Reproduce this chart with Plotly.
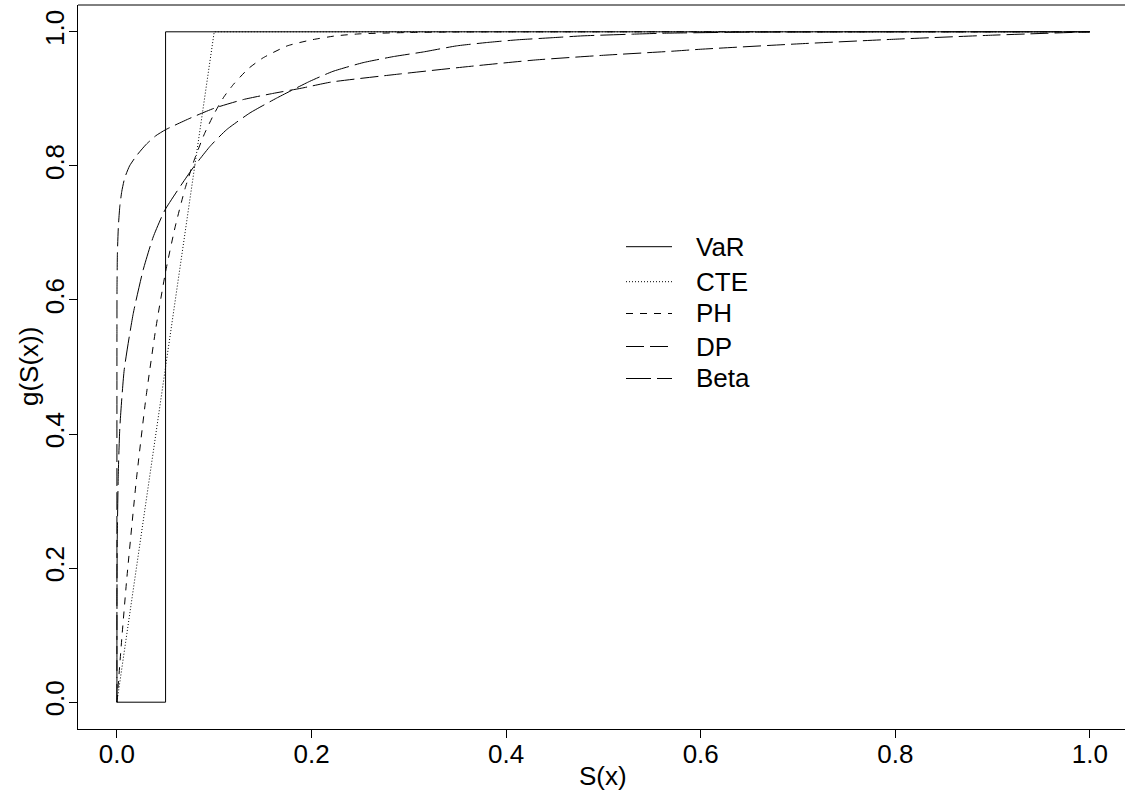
import plotly.graph_objects as go

# ---- data ----
var_s = [0.0, 0.05, 0.05, 1.0]
var_g = [0.0, 0.0, 1.0, 1.0]

cte_s = [0.0, 0.1, 1.0]
cte_g = [0.0, 1.0, 1.0]

ph_s = [0.0, 0.005, 0.01, 0.02, 0.03, 0.04, 0.05, 0.06, 0.07, 0.08, 0.09, 0.1, 0.11, 0.12,
        0.135, 0.15, 0.175, 0.2, 0.225, 0.25, 0.3, 0.35, 0.4, 1.0]
ph_g = [0.0, 0.095, 0.182, 0.332, 0.456, 0.558, 0.642, 0.710, 0.766, 0.811, 0.848, 0.878,
        0.903, 0.922, 0.945, 0.961, 0.979, 0.988, 0.994, 0.997, 0.999, 0.9998, 1.0, 1.0]

dp_s = [0.0, 0.00002, 0.0001, 0.0005, 0.0015, 0.003, 0.005, 0.008, 0.013, 0.02,
        0.03, 0.04, 0.05, 0.075, 0.1, 0.13, 0.16, 0.19, 0.22, 0.29, 0.36, 0.43,
        0.5, 0.57, 0.6, 0.7, 0.8, 0.9, 1.0]
dp_g = [0.0, 0.55, 0.62, 0.67, 0.71, 0.74, 0.762, 0.782, 0.80, 0.815,
        0.832, 0.845, 0.854, 0.871, 0.886, 0.899, 0.908, 0.916, 0.925, 0.937, 0.948, 0.958,
        0.965, 0.971, 0.974, 0.982, 0.989, 0.995, 1.0]

beta_s = [0.0, 0.00005, 0.0003, 0.0014, 0.003, 0.0075, 0.0168, 0.027, 0.0373, 0.0493,
          0.0767, 0.0956, 0.1127, 0.1367, 0.164, 0.198, 0.222, 0.253, 0.284, 0.315,
          0.349, 0.38, 0.411, 0.445, 0.479, 0.53, 0.565, 0.65, 0.8, 1.0]
beta_g = [0.0, 0.15, 0.24, 0.34, 0.41, 0.496, 0.58, 0.645, 0.694, 0.734,
          0.794, 0.829, 0.854, 0.879, 0.901, 0.926, 0.941, 0.954, 0.963, 0.970,
          0.979, 0.984, 0.988, 0.991, 0.994, 0.9965, 0.998, 0.9995, 1.0, 1.0]

legend_names = ["VaR", "CTE", "PH", "DP", "Beta"]
tick_vals = [0.0, 0.2, 0.4, 0.6, 0.8, 1.0]
tick_text = ["0.0", "0.2", "0.4", "0.6", "0.8", "1.0"]
x_title = "S(x)"
y_title = "g(S(x))"

# ---- styles ----
W, H = 1125, 799
L, R, T, B = 78, 0, 5, 70
FONT = "Liberation Sans, Arial, sans-serif"
FS = 26
dashes = ["solid", "1px,2px", "7px,7px", "18px,6px", "25px,6px"]
shapes_kind = ["linear", "linear", "spline", "spline", "spline"]

fig = go.Figure()
series = [(var_s, var_g), (cte_s, cte_g), (ph_s, ph_g), (dp_s, dp_g), (beta_s, beta_g)]
for (sx, gy), name, d, sh in zip(series, legend_names, dashes, shapes_kind):
    line = dict(color="black", width=1, dash=d, shape=sh)
    if sh == "spline":
        line["smoothing"] = 0.5
    fig.add_trace(go.Scatter(x=sx, y=gy, mode="lines", name=name,
                             line=line, showlegend=False, hoverinfo="skip"))

pw = W - L - R
ph = H - T - B

def px2paper_x(px):
    return (px - L) / pw

def px2paper_y(py):
    return (H - B - py) / ph

shapes = []
annotations = []
row_y = [246.7, 281.7, 313.5, 346.5, 378.5]
for name, d, yy in zip(legend_names, dashes, row_y):
    shapes.append(dict(type="line", xref="paper", yref="paper",
                       x0=px2paper_x(626), x1=px2paper_x(672),
                       y0=px2paper_y(yy), y1=px2paper_y(yy),
                       line=dict(color="black", width=1, dash=d)))
    annotations.append(dict(xref="paper", yref="paper", x=px2paper_x(694),
                            y=px2paper_y(yy), text=name, showarrow=False,
                            xanchor="left", yanchor="middle",
                            font=dict(family=FONT, size=FS, color="black")))

# axis titles
annotations.append(dict(xref="paper", yref="paper", x=px2paper_x(603), y=px2paper_y(776),
                        text=x_title, showarrow=False, xanchor="center", yanchor="middle",
                        font=dict(family=FONT, size=FS, color="black")))
annotations.append(dict(xref="paper", yref="paper", x=px2paper_x(29), y=px2paper_y(367),
                        text=y_title, showarrow=False, textangle=-90,
                        xanchor="center", yanchor="middle",
                        font=dict(family=FONT, size=FS, color="black")))

# top box line
shapes.append(dict(type="line", xref="paper", yref="paper", x0=0, x1=1, y0=1, y1=1,
                   line=dict(color="black", width=1)))

fig.update_layout(
    width=W, height=H,
    margin=dict(l=L, r=R, t=T, b=B, pad=0, autoexpand=False),
    paper_bgcolor="white", plot_bgcolor="white",
    font=dict(family=FONT, size=FS, color="black"),
    shapes=shapes, annotations=annotations, showlegend=False,
)
fig.update_xaxes(range=[-0.04, -0.04 + 1047 / 973], showgrid=False, zeroline=False,
                 showline=True, linecolor="black", linewidth=1, automargin=False,
                 ticks="outside", ticklen=8, tickcolor="black", tickwidth=1,
                 tickvals=tick_vals, ticktext=tick_text, ticklabelstandoff=-6,
                 tickfont=dict(family=FONT, size=FS))
fig.update_yaxes(range=[-0.04, 1.04], showgrid=False, zeroline=False,
                 showline=True, linecolor="black", linewidth=1, automargin=False,
                 ticks="outside", ticklen=8, tickcolor="black", tickwidth=1,
                 tickvals=tick_vals, ticktext=tick_text, tickangle=-90,
                 ticklabelstandoff=-5,
                 tickfont=dict(family=FONT, size=FS))

fig.write_html("out.html", config={"displayModeBar": False},
               post_script="document.body.style.margin='0px';document.body.style.overflow='hidden';")
